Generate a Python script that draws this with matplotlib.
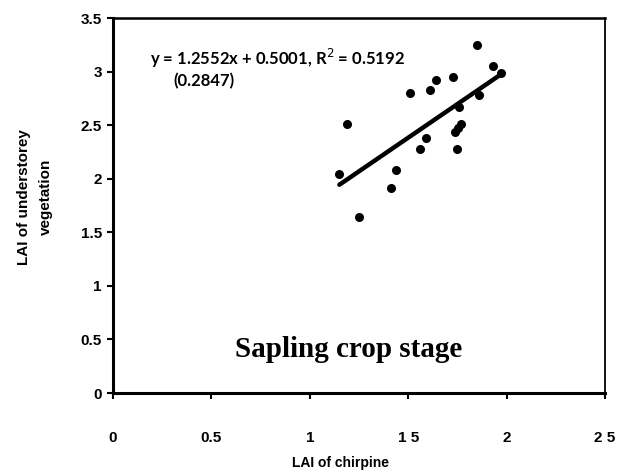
import numpy as np
import matplotlib.pyplot as plt

# LAI of chirpine vs LAI of understorey vegetation (sapling crop stage)
lai_chirpine = [1.85, 1.93, 1.97, 1.73, 1.64, 1.61, 1.51, 1.86, 1.76, 1.19,
                1.77, 1.755, 1.74, 1.59, 1.56, 1.75, 1.44, 1.15, 1.41, 1.25]
lai_under = [3.25, 3.05, 2.99, 2.95, 2.92, 2.83, 2.80, 2.78, 2.67, 2.51,
             2.51, 2.47, 2.44, 2.38, 2.28, 2.28, 2.08, 2.04, 1.91, 1.64]
slope, intercept = 1.2552, 0.5001
x_ticks = [0, 0.5, 1, 1.5, 2, 2.5]
x_tick_labels = ["0", "0.5", "1", "1 5", "2", "2 5"]
y_ticks = [0, 0.5, 1, 1.5, 2, 2.5, 3, 3.5]
y_tick_labels = ["0", "0.5", "1", "1.5", "2", "2.5", "3", "3.5"]

fig = plt.figure(figsize=(6.22, 4.75), dpi=100)
ax = fig.add_axes([0.1817, 0.1726, 0.791, 0.7895])

ax.scatter(lai_chirpine, lai_under, s=30, color="black", zorder=3)
xs = np.array([min(lai_chirpine), max(lai_chirpine)])
ax.plot(xs, slope * xs + intercept, color="black", lw=3.2, solid_capstyle="round")

ax.set_xlim(0, 2.5)
ax.set_ylim(0, 3.5)
ax.set_xticks(x_ticks)
ax.set_xticklabels(x_tick_labels)
ax.set_yticks(y_ticks)
ax.set_yticklabels(y_tick_labels)
for lab in ax.get_xticklabels() + ax.get_yticklabels():
    lab.set_fontfamily("Liberation Sans")
    lab.set_fontweight("bold")
    lab.set_fontsize(11)
ax.tick_params(axis="x", direction="out", length=4, width=1.5, pad=23)
ax.tick_params(axis="y", direction="out", length=4, width=1.5, pad=4)

ax.spines["left"].set_linewidth(2.2)
ax.spines["bottom"].set_linewidth(2.2)
ax.spines["top"].set_linewidth(1.8)
ax.spines["right"].set_linewidth(1.3)

# axis titles placed by hand, as in the scanned figure
fig.text(340 / 622, 1 - 463 / 475, "LAI of chirpine", fontfamily="Liberation Sans",
         fontsize=10, fontweight="bold", ha="center", va="center")
fig.text(35 / 622, 1 - 197 / 475, "LAI of understorey\nvegetation",
         fontfamily="Liberation Sans", fontsize=11, fontweight="bold",
         rotation=90, ha="center", va="center", linespacing=1.8,
         multialignment="center")

ax.text(0.075, 0.876, "y = 1.2552x + 0.5001, R$^2$ = 0.5192",
        transform=ax.transAxes, fontfamily="Lato", fontsize=12,
        fontweight="bold")
ax.text(0.122, 0.818, "(0.2847)", transform=ax.transAxes, fontfamily="Lato",
        fontsize=12, fontweight="bold")
ax.text(0.478, 0.115, "Sapling crop stage", transform=ax.transAxes,
        fontfamily="Liberation Serif", fontsize=21, fontweight="bold",
        ha="center", va="center")

fig.savefig("out.png", dpi=100)
